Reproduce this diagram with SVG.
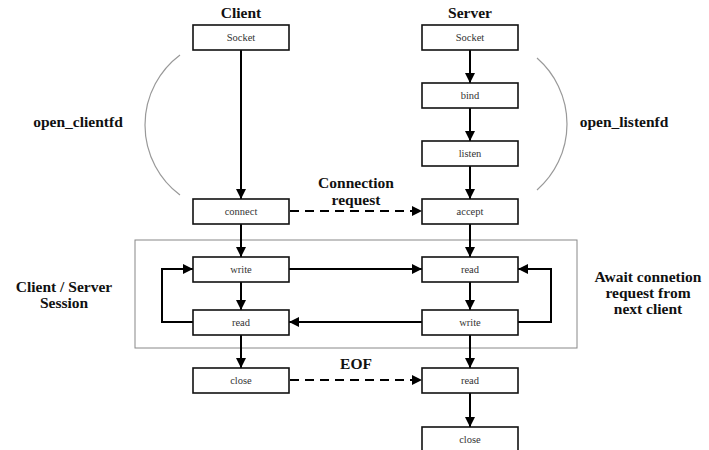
<svg xmlns="http://www.w3.org/2000/svg" width="709" height="450" viewBox="0 0 709 450">
<style>
.box{fill:#fff;stroke:#111;stroke-width:1.6}
.bt{font-family:"Liberation Serif","Times New Roman",serif;font-size:10.5px;fill:#333;text-anchor:middle}
.lb{font-family:"Liberation Serif","Times New Roman",serif;font-size:15.5px;font-weight:bold;fill:#111;text-anchor:middle}
.ln{fill:none;stroke:#000;stroke-width:2}
.dash{fill:none;stroke:#000;stroke-width:2;stroke-dasharray:9,6}
.arc{fill:none;stroke:#999;stroke-width:1.2}
</style>
<defs>
<marker id="ah" viewBox="0 0 10 10" refX="10" refY="5" markerWidth="5" markerHeight="5" orient="auto" markerUnits="strokeWidth">
<path d="M0,0 L10,5 L0,10 z" fill="#000"/>
</marker>
</defs>
<rect width="709" height="450" fill="#fff"/>
<g id="titles">
<text class="lb" x="241" y="18">Client</text>
<text class="lb" x="470" y="18">Server</text>
</g>
<g id="session">
<rect x="135" y="240" width="442" height="108" fill="none" stroke="#888" stroke-width="1"/>
</g>
<g id="arcs">
<path class="arc" d="M180,55 A87.5,87.5 0 0 0 180,195"/>
<path class="arc" d="M537,58 A87.6,87.6 0 0 1 537,190"/>
</g>
<g id="connectors">
<line class="ln" x1="241" y1="50" x2="241" y2="199" marker-end="url(#ah)"/>
<line class="ln" x1="470" y1="50" x2="470" y2="83" marker-end="url(#ah)"/>
<line class="ln" x1="470" y1="108" x2="470" y2="141" marker-end="url(#ah)"/>
<line class="ln" x1="470" y1="166" x2="470" y2="199" marker-end="url(#ah)"/>
<line class="dash" x1="290" y1="211" x2="422" y2="211" marker-end="url(#ah)"/>
<line class="ln" x1="241" y1="224" x2="241" y2="257" marker-end="url(#ah)"/>
<line class="ln" x1="470" y1="224" x2="470" y2="257" marker-end="url(#ah)"/>
<line class="ln" x1="241" y1="282" x2="241" y2="310" marker-end="url(#ah)"/>
<line class="ln" x1="470" y1="282" x2="470" y2="310" marker-end="url(#ah)"/>
<line class="ln" x1="289" y1="269" x2="422" y2="269" marker-end="url(#ah)"/>
<line class="ln" x1="422" y1="322" x2="289" y2="322" marker-end="url(#ah)"/>
<polyline class="ln" points="193,322 162,322 162,269 193,269" marker-end="url(#ah)"/>
<polyline class="ln" points="518,322 551,322 551,269 518,269" marker-end="url(#ah)"/>
<line class="ln" x1="241" y1="335" x2="241" y2="368" marker-end="url(#ah)"/>
<line class="ln" x1="470" y1="335" x2="470" y2="368" marker-end="url(#ah)"/>
<line class="dash" x1="290" y1="380" x2="422" y2="380" marker-end="url(#ah)"/>
<line class="ln" x1="470" y1="393" x2="470" y2="427" marker-end="url(#ah)"/>
</g>
<g id="c-socket"><rect class="box" x="193" y="25" width="96" height="25"/><text class="bt" x="241" y="41">Socket</text></g>
<g id="s-socket"><rect class="box" x="422" y="25" width="96" height="25"/><text class="bt" x="470" y="41">Socket</text></g>
<g id="s-bind"><rect class="box" x="422" y="83" width="96" height="25"/><text class="bt" x="470" y="99">bind</text></g>
<g id="s-listen"><rect class="box" x="422" y="141" width="96" height="25"/><text class="bt" x="470" y="157">listen</text></g>
<g id="c-connect"><rect class="box" x="193" y="199" width="96" height="25"/><text class="bt" x="241" y="215">connect</text></g>
<g id="s-accept"><rect class="box" x="422" y="199" width="96" height="25"/><text class="bt" x="470" y="215">accept</text></g>
<g id="c-write"><rect class="box" x="193" y="257" width="96" height="25"/><text class="bt" x="241" y="273">write</text></g>
<g id="s-read"><rect class="box" x="422" y="257" width="96" height="25"/><text class="bt" x="470" y="273">read</text></g>
<g id="c-read"><rect class="box" x="193" y="310" width="96" height="25"/><text class="bt" x="241" y="326">read</text></g>
<g id="s-write"><rect class="box" x="422" y="310" width="96" height="25"/><text class="bt" x="470" y="326">write</text></g>
<g id="c-close"><rect class="box" x="193" y="368" width="96" height="25"/><text class="bt" x="241" y="384">close</text></g>
<g id="s-read2"><rect class="box" x="422" y="368" width="96" height="25"/><text class="bt" x="470" y="384">read</text></g>
<g id="s-close"><rect class="box" x="422" y="427" width="96" height="25"/><text class="bt" x="470" y="443">close</text></g>
<g id="labels">
<text class="lb" x="78" y="127">open_clientfd</text>
<text class="lb" x="624" y="127">open_listenfd</text>
<text class="lb" x="356" y="188">Connection</text>
<text class="lb" x="356" y="205">request</text>
<text class="lb" x="64" y="292">Client / Server</text>
<text class="lb" x="64" y="308">Session</text>
<text class="lb" x="648" y="282">Await connetion</text>
<text class="lb" x="648" y="298">request from</text>
<text class="lb" x="648" y="314">next client</text>
<text class="lb" x="356" y="369">EOF</text>
</g>
</svg>
